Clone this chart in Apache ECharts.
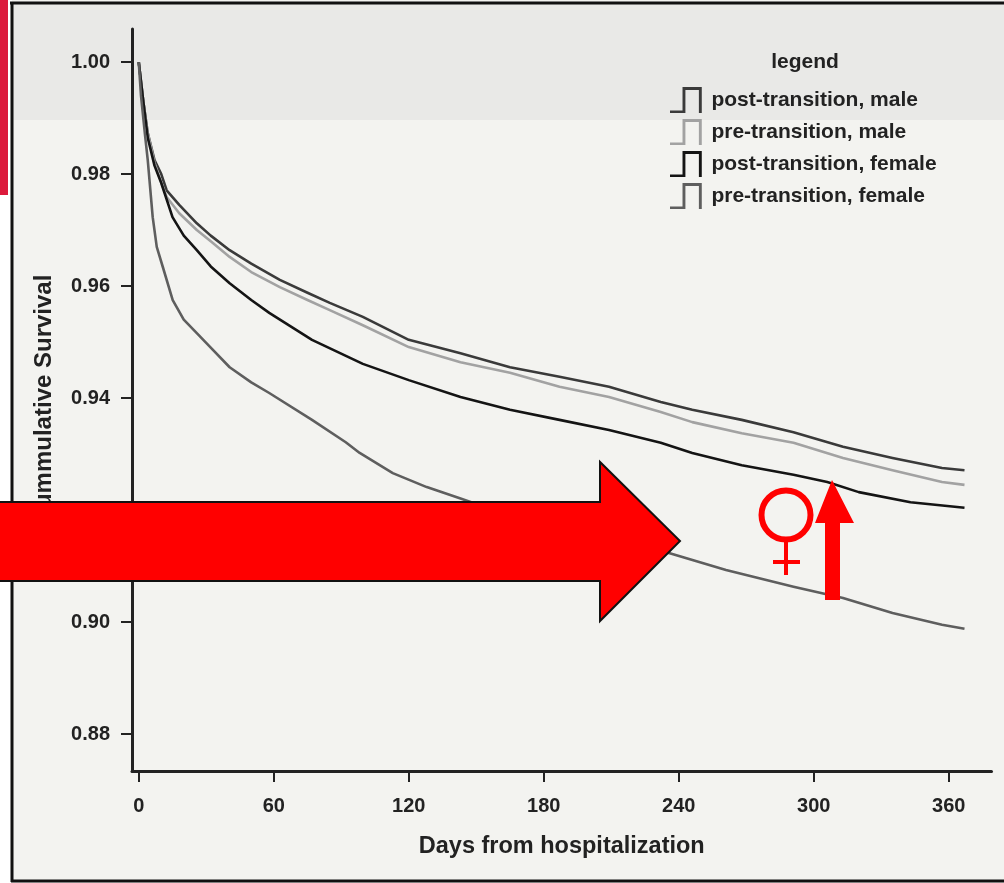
<!DOCTYPE html>
<html>
<head>
<meta charset="utf-8">
<script src="https://cdn.jsdelivr.net/npm/echarts@6/dist/echarts.min.js"></script>
<style>
html,body{margin:0;padding:0;background:#f3f3f0;}
#chart{width:1004px;height:883px;}
</style>
</head>
<body>
<div id="chart"></div>
<script>
// ---- data ----
var seriesNames = ['post-transition, male', 'pre-transition, male', 'post-transition, female', 'pre-transition, female'];

var postMaleDays = [0, 2, 4, 7, 10, 12.4, 18, 25.8, 32, 40.4, 50, 62.7, 75, 84.9, 99.6, 120, 143, 165, 187, 209, 232, 246, 268, 291, 313, 335, 357, 367];
var postMaleVals = [1.0, 0.993, 0.9873, 0.9825, 0.980, 0.9771, 0.9745, 0.9712, 0.969, 0.9664, 0.964, 0.9611, 0.9588, 0.957, 0.9545, 0.9504, 0.948, 0.9455, 0.9438, 0.942, 0.9393, 0.9379, 0.9361, 0.9339, 0.9313, 0.9293, 0.9275, 0.9271];

var preMaleDays = [0, 2, 4, 7, 10, 12.4, 18, 25.8, 32, 40.4, 50, 62.7, 75, 84.9, 99.6, 120, 143, 165, 187, 209, 232, 246, 268, 291, 313, 335, 357, 367];
var preMaleVals = [1.0, 0.993, 0.9873, 0.982, 0.9785, 0.9759, 0.973, 0.970, 0.968, 0.9652, 0.9625, 0.9598, 0.9575, 0.9557, 0.953, 0.9491, 0.9464, 0.9445, 0.942, 0.9402, 0.9375, 0.9357, 0.9337, 0.932, 0.9293, 0.9271, 0.925, 0.9245];

var postFemaleDays = [0, 2, 4, 7, 10, 15, 20, 25.8, 32, 40.4, 50, 58, 77, 99.6, 120, 143, 165, 187, 209, 232, 246, 268, 291, 306, 320, 343, 367];
var postFemaleVals = [1.0, 0.993, 0.9865, 0.9815, 0.9784, 0.9723, 0.969, 0.9664, 0.9635, 0.9605, 0.9575, 0.9552, 0.9504, 0.9461, 0.9432, 0.9402, 0.9379, 0.9361, 0.9343, 0.932, 0.9302, 0.928, 0.9263, 0.925, 0.9232, 0.9214, 0.9204];

var preFemaleDays = [0, 1, 2.7, 4, 6.2, 8, 10.7, 15.1, 20, 25.8, 32, 40.4, 50, 58, 77, 92, 98.2, 112.9, 128, 142.7, 165, 190, 215, 236, 261, 291, 313, 335, 357, 367];
var preFemaleVals = [1.0, 0.994, 0.9873, 0.9825, 0.9723, 0.967, 0.9634, 0.9575, 0.954, 0.9516, 0.949, 0.9455, 0.9428, 0.9409, 0.9361, 0.9321, 0.9302, 0.9266, 0.9241, 0.9221, 0.919, 0.9165, 0.914, 0.9123, 0.9093, 0.9063, 0.9043, 0.9016, 0.8995, 0.8988];

var xTicks = [0, 60, 120, 180, 240, 300, 360];
var yTicks = [0.88, 0.90, 0.92, 0.94, 0.96, 0.98, 1.00];

var xTitle = 'Days from hospitalization';
var yTitle = 'Cummulative Survival';
var legendTitle = 'legend';

// ---- build ----
function pairs(d, v) { return d.map(function (x, i) { return [x, v[i]]; }); }
var colors = ['#3a3a3a', '#a2a2a2', '#141414', '#5e5e5e'];
var allData = [pairs(postMaleDays, postMaleVals), pairs(preMaleDays, preMaleVals),
               pairs(postFemaleDays, postFemaleVals), pairs(preFemaleDays, preFemaleVals)];

var stepIcon = 'path://M0,27 L0,24.5 L13,24.5 L13,0 L33,0 L33,27 L30,27 L30,3 L16,3 L16,27 Z';

var font = '"Liberation Sans", Arial, sans-serif';

var chart = echarts.init(document.getElementById('chart'), null, {renderer: 'canvas'});
chart.setOption({
  backgroundColor: '#f3f3f0',
  animation: false,
  grid: {left: 132, right: 12.5, top: 29, bottom: 112, containLabel: false, outerBoundsMode: 'none'},
  xAxis: {
    type: 'value', min: -3, max: 379,
    axisLine: {onZero: false, lineStyle: {color: '#222', width: 3}},
    axisTick: {customValues: xTicks, length: 11, lineStyle: {color: '#222', width: 2}},
    axisLabel: {customValues: xTicks, margin: 25, fontSize: 20, fontWeight: 'bold', color: '#222', fontFamily: font},
    splitLine: {show: false},
    name: xTitle, nameLocation: 'middle', nameGap: 64,
    nameTextStyle: {fontSize: 23.5, fontWeight: 'bold', color: '#222', fontFamily: font}
  },
  yAxis: {
    type: 'value', min: 0.8734, max: 1.0059,
    axisLine: {show: true, onZero: false, lineStyle: {color: '#222', width: 3}},
    axisTick: {show: true, customValues: yTicks, length: 11, lineStyle: {color: '#222', width: 2}},
    axisLabel: {customValues: yTicks, margin: 22, fontSize: 20, fontWeight: 'bold', color: '#222', fontFamily: font,
      formatter: function (v) { return v.toFixed(2); }},
    splitLine: {show: false},
    name: yTitle, nameLocation: 'middle', nameGap: 76,
    nameTextStyle: {fontSize: 24, fontWeight: 'bold', color: '#222', fontFamily: font}
  },
  legend: {
    orient: 'vertical', left: 665, top: 82,
    itemWidth: 35, itemHeight: 26, itemGap: 6,
    icon: stepIcon,
    itemStyle: {borderWidth: 0},
    textStyle: {fontSize: 21, fontWeight: 'bold', color: '#222', fontFamily: font, padding: [0, 0, 0, 3]},
    data: seriesNames
  },
  series: seriesNames.map(function (n, i) {
    return {
      name: n, type: 'line', data: allData[i], showSymbol: false, symbol: 'none', smooth: false,
      color: colors[i], lineStyle: {color: colors[i], width: 2.6, join: 'round'}, z: 3 + i
    };
  }),
  graphic: [
    {type: 'rect', z: -10, shape: {x: 12, y: 4, width: 992, height: 116}, style: {fill: '#e9e9e7'}},
    {type: 'rect', z: -9, shape: {x: 0, y: 0, width: 12, height: 883}, style: {fill: '#ffffff'}},
    {type: 'line', z: 50, shape: {x1: 10, y1: 3, x2: 1004, y2: 3}, style: {stroke: '#111', lineWidth: 3}},
    {type: 'line', z: 50, shape: {x1: 12, y1: 2, x2: 12, y2: 882}, style: {stroke: '#111', lineWidth: 3}},
    {type: 'line', z: 50, shape: {x1: 11, y1: 881, x2: 1004, y2: 881}, style: {stroke: '#111', lineWidth: 3}},
    {type: 'rect', z: 60, shape: {x: 0, y: 0, width: 8, height: 195}, style: {fill: '#dc1a3c'}},
    {type: 'text', z: 20, x: 805, y: 62, style: {text: legendTitle, font: 'bold 21px ' + font, fill: '#222', textAlign: 'center', textVerticalAlign: 'middle'}},
    {type: 'polygon', z: 100, shape: {points: [[-2, 502], [600, 502], [600, 462], [680, 541], [600, 621], [600, 581], [-2, 581]]},
      style: {fill: '#ff0000', stroke: '#111', lineWidth: 2}},
    {type: 'circle', z: 100, shape: {cx: 786, cy: 515, r: 24.5}, style: {fill: 'none', stroke: '#ff0000', lineWidth: 6}},
    {type: 'line', z: 100, shape: {x1: 786, y1: 542, x2: 786, y2: 575}, style: {stroke: '#ff0000', lineWidth: 4}},
    {type: 'line', z: 100, shape: {x1: 773, y1: 562, x2: 800, y2: 562}, style: {stroke: '#ff0000', lineWidth: 4}},
    {type: 'polygon', z: 100, shape: {points: [[825, 600], [825, 523], [815, 523], [832, 480], [854, 523], [840, 523], [840, 600]]},
      style: {fill: '#ff0000'}}
  ]
});
</script>
</body>
</html>
